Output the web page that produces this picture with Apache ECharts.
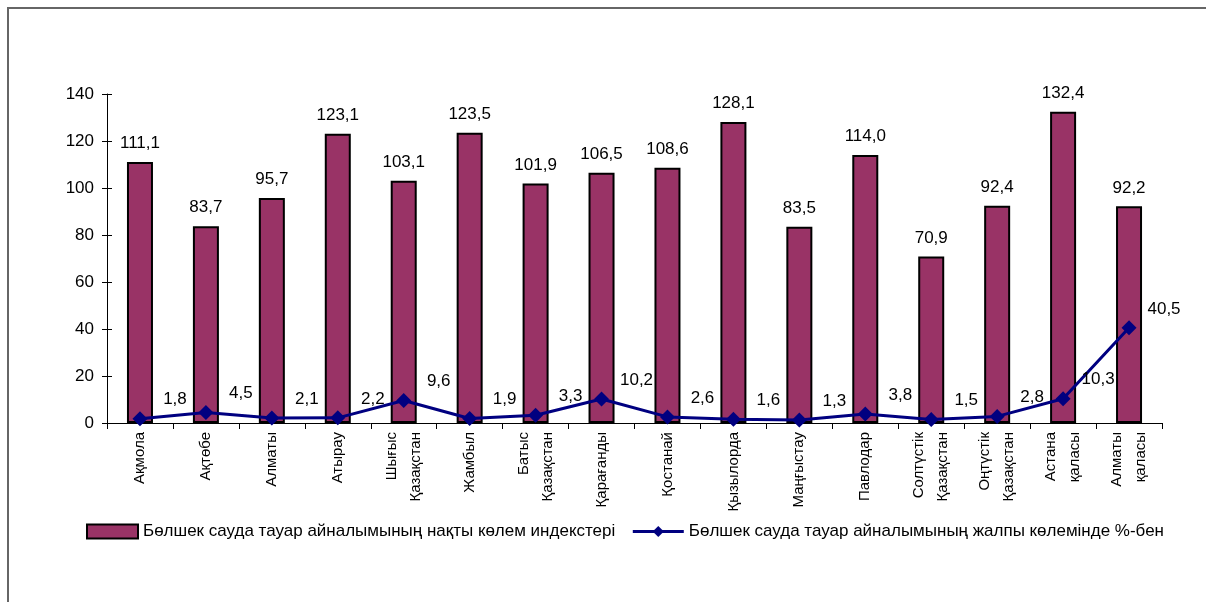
<!DOCTYPE html>
<html>
<head>
<meta charset="utf-8">
<script src="https://cdn.jsdelivr.net/npm/echarts@6/dist/echarts.min.js"></script>
<style>
html,body{margin:0;padding:0;background:#fff;}
#chart{width:1206px;height:602px;}
</style>
</head>
<body>
<div id="chart"></div>
<script>
const categories = ['Ақмола','Ақтөбе','Алматы','Атырау','Шығыс\nҚазақстан','Жамбыл','Батыс\nҚазақстан','Қарағанды','Қостанай','Қызылорда','Маңғыстау','Павлодар','Солтүстік\nҚазақстан','Оңтүстік\nҚазақстан','Астана\nқаласы','Алматы\nқаласы'];
const indexValues = [111.1,83.7,95.7,123.1,103.1,123.5,101.9,106.5,108.6,128.1,83.5,114.0,70.9,92.4,132.4,92.2];
const shareValues = [1.8,4.5,2.1,2.2,9.6,1.9,3.3,10.2,2.6,1.6,1.3,3.8,1.5,2.8,10.3,40.5];
const yTicks = [0,20,40,60,80,100,120,140];
const seriesNames = ['Бөлшек сауда тауар айналымының нақты көлем индекстері','Бөлшек сауда тауар айналымының жалпы көлемінде %-бен'];

const fmt = v => v.toFixed(1).replace('.', ',');
const font = 'Arial, "Liberation Sans", sans-serif';

const chart = echarts.init(document.getElementById('chart'));
chart.setOption({
  animation: false,
  backgroundColor: '#fff',
  textStyle: { fontFamily: font, color: '#000' },
  graphic: [{
    type: 'rect', shape: { x: 8, y: 8, width: 1400, height: 800 },
    style: { fill: 'none', stroke: '#666', lineWidth: 2 }, silent: true, z: -1
  }],
  grid: { left: 107, right: 44, top: 94, bottom: 179 },
  legend: {
    top: 518, left: 81, itemWidth: 51, itemHeight: 14, itemGap: 16,
    textStyle: { fontSize: 17, fontFamily: font, color: '#000' },
    data: [
      { name: seriesNames[0], icon: 'rect', itemStyle: { color: '#993366', borderColor: '#000', borderWidth: 2 } },
      { name: seriesNames[1], itemStyle: { color: '#000080' }, lineStyle: { color: '#000080', width: 3 } }
    ]
  },
  xAxis: {
    type: 'category', data: categories,
    axisLine: { lineStyle: { color: '#000', width: 1 } },
    axisTick: { show: true, length: 6, lineStyle: { color: '#000' } },
    axisLabel: { rotate: 90, fontSize: 15, color: '#000', fontFamily: font, margin: 9, lineHeight: 24 }
  },
  yAxis: [{
    type: 'value', min: 0, max: 140, interval: 20,
    splitLine: { show: false },
    axisLine: { show: true, lineStyle: { color: '#000' } },
    axisTick: { show: true, length: 5, lineStyle: { color: '#000' } },
    axisLabel: { fontSize: 17, color: '#000', fontFamily: font, margin: 13 }
  }, {
    type: 'value', min: 0, max: 140, interval: 20, position: 'left',
    splitLine: { show: false },
    axisLine: { show: false },
    axisTick: { show: true, inside: true, length: 5, lineStyle: { color: '#000' } },
    axisLabel: { show: false }
  }],
  series: [{
    name: seriesNames[0], type: 'bar', data: indexValues, barWidth: 26,
    itemStyle: { color: '#993366', borderColor: '#000', borderWidth: 2 },
    label: { show: true, position: 'top', distance: 10, fontSize: 17, color: '#000', fontFamily: font,
      formatter: p => fmt(p.value) }
  }, {
    name: seriesNames[1], type: 'line', data: shareValues,
    symbol: 'diamond', symbolSize: 15,
    lineStyle: { color: '#000080', width: 3 },
    itemStyle: { color: '#000080' },
    label: { show: true, position: 'top', distance: 3, offset: [35, 0], fontSize: 17, color: '#000', fontFamily: font,
      formatter: p => fmt(p.value) },
    z: 5
  }]
});
</script>
</body>
</html>
